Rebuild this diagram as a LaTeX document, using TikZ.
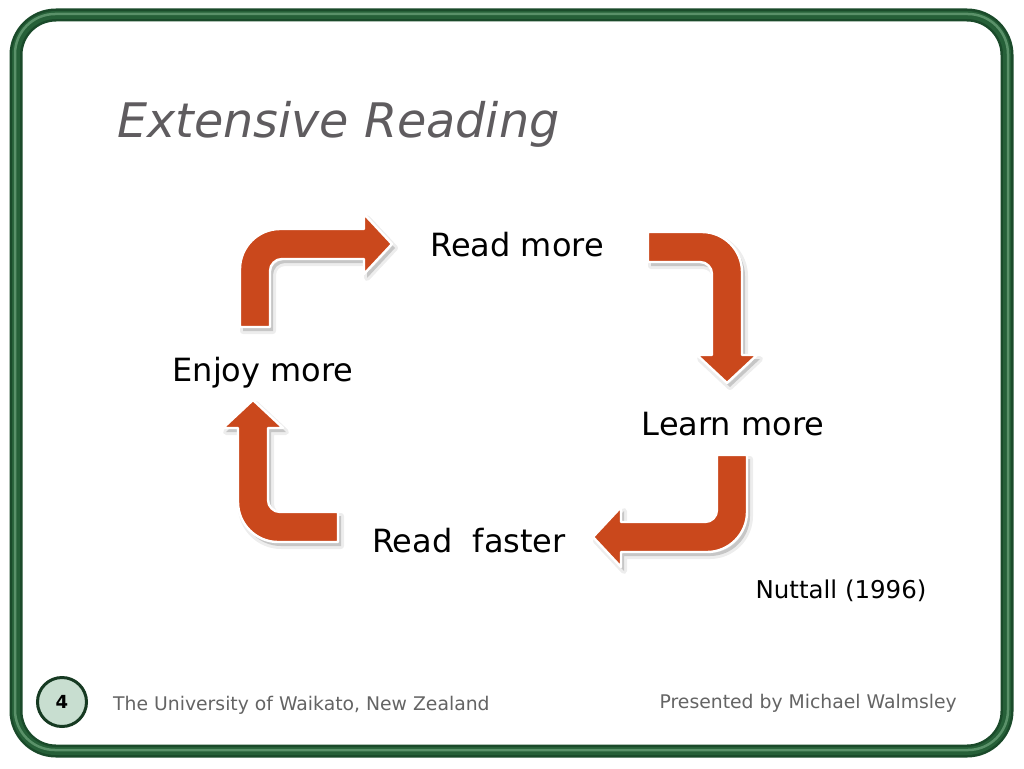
\documentclass[tikz,border=0pt]{standalone}
\usepackage{fontspec}
\setmainfont{DejaVu Sans}
\definecolor{framegreen}{RGB}{26,74,42}
\definecolor{framemid}{RGB}{38,96,56}
\definecolor{framelight}{RGB}{90,145,105}
\definecolor{arrowred}{RGB}{202,72,28}
\definecolor{titlegray}{RGB}{95,92,95}
\definecolor{footgray}{RGB}{100,100,100}
\definecolor{badgefill}{RGB}{200,222,208}
\definecolor{badgeborder}{RGB}{22,58,34}
\newcommand{\myBentArrow}[3]{%
  \path[#3] (0,#1) -- (0,40) .. controls (0,18) and (18,0) .. (40,0)
    -- (#2,0) -- (#2,-15) -- ({#2+28},15) -- (#2,45) -- (#2,30)
    -- (42,30) .. controls (35.4,30) and (30,35.4) .. (30,42)
    -- (30,#1) -- cycle;}
\begin{document}
\begin{tikzpicture}[x=1pt,y=-1pt,
  arrowfill/.style={fill=arrowred, draw=white, line width=2.4pt, line join=round},
  arrowshadow/.style={fill=black, fill opacity=0.16, draw=black, draw opacity=0.07, line width=6pt, line join=round},
  txtmain/.style={font=\fontsize{32}{38}\selectfont, text=black, inner sep=0pt},
  txtfoot/.style={font=\fontsize{18.8}{22}\selectfont, text=footgray, inner sep=0pt}]
\useasboundingbox (0,0) rectangle (1024,768);
\fill[white] (0,0) rectangle (1024,768);
% frame
\draw[line width=13pt, framegreen, rounded corners=40pt] (16,15) rectangle (1007,751);
\draw[line width=8pt, framemid, rounded corners=40pt] (16,15) rectangle (1007,751);
\draw[line width=2.5pt, framelight, rounded corners=40pt] (15,14) rectangle (1008,750);
% title
\node[anchor=base west, inner sep=0pt, text=titlegray, font=\itshape\fontsize{47.6}{54}\selectfont] (title) at (117,137) {Extensive Reading};
% arrow shadows
\begin{scope}[shift={(243,233)}]\myBentArrow{98}{124}{arrowshadow}\end{scope}
\begin{scope}[shift={(745,236)},rotate=-90]\myBentArrow{94}{123}{arrowshadow}\end{scope}
\begin{scope}[shift={(750,556)},rotate=180]\myBentArrow{97}{126}{arrowshadow}\end{scope}
\begin{scope}[shift={(241,546)},rotate=90]\myBentArrow{100}{114}{arrowshadow}\end{scope}
% arrows
\begin{scope}[shift={(240,229)}]\myBentArrow{98}{124}{arrowfill}\end{scope}
\begin{scope}[shift={(742,232)},rotate=-90]\myBentArrow{94}{123}{arrowfill}\end{scope}
\begin{scope}[shift={(747,552)},rotate=180]\myBentArrow{97}{126}{arrowfill}\end{scope}
\begin{scope}[shift={(238,542)},rotate=90]\myBentArrow{100}{114}{arrowfill}\end{scope}
% cycle labels
\node[txtmain, anchor=base] (readmore) at (517,256) {Read more};
\node[txtmain, anchor=base] (enjoy) at (263,381) {Enjoy more};
\node[txtmain, anchor=base] (learn) at (733,435) {Learn more};
\node[txtmain, anchor=base] (faster) at (469,552) {Read\ \ faster};
\node[anchor=base, inner sep=0pt, font=\fontsize{24.5}{28}\selectfont] (src) at (841,598) {Nuttall (1996)};
% footer
\node[circle, minimum size=49pt, inner sep=0pt, fill=badgefill, draw=badgeborder, line width=3pt, font=\bfseries\fontsize{18}{20}\selectfont] (num) at (62,702) {4};
\node[txtfoot, anchor=base west] (uni) at (113,710) {The University of Waikato, New Zealand};
\node[txtfoot, anchor=base east] (pres) at (957,708) {Presented by Michael Walmsley};
\end{tikzpicture}
\end{document}
